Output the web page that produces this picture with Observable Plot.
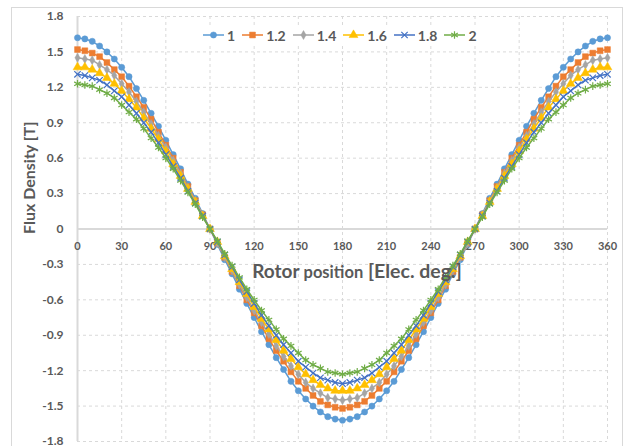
<!DOCTYPE html>
<html><head><meta charset="utf-8">
<script src="https://cdn.jsdelivr.net/npm/d3@7"></script>
<script src="https://cdn.jsdelivr.net/npm/@observablehq/plot@0.6"></script>
<style>
html,body{margin:0;padding:0;background:#fff;}
#wrap{position:relative;width:625px;height:446px;overflow:hidden;background:#fff;}
#frame{position:absolute;left:11px;top:7px;width:612px;height:470px;border:1px solid #D9D9D9;box-sizing:border-box;}
#chart{position:absolute;left:0;top:0;}
#legend{position:absolute;left:202px;top:26px;height:18px;display:flex;align-items:center;background:#fff;font:bold 14px Lato, sans-serif;color:#595959;padding:0 1px;}
#legend .item{display:flex;align-items:center;margin-right:7px;}
#legend .item:last-child{margin-right:0;}
#legend svg{display:block;}
#legend span{margin-left:3px;}
</style>
</head><body>
<div id="wrap"><div id="frame"></div><div id="chart"></div><div id="legend"></div></div>
<script>
const angles = [0,5,10,15,20,25,30,35,40,45,50,55,60,65,70,75,80,85,90,95,100,105,110,115,120,125,130,135,140,145,150,155,160,165,170,175,180,185,190,195,200,205,210,215,220,225,230,235,240,245,250,255,260,265,270,275,280,285,290,295,300,305,310,315,320,325,330,335,340,345,350,355,360];

const seriesNames = ["1","1.2","1.4","1.6","1.8","2"];

const s1 = [1.62,1.61,1.59,1.55,1.50,1.44,1.37,1.29,1.19,1.09,0.98,0.87,0.75,0.63,0.51,0.38,0.26,0.13,0,
-0.13,-0.26,-0.38,-0.51,-0.63,-0.75,-0.87,-0.98,-1.09,-1.19,-1.29,-1.37,-1.44,-1.50,-1.55,-1.59,-1.61,-1.62,
-1.61,-1.59,-1.55,-1.50,-1.44,-1.37,-1.29,-1.19,-1.09,-0.98,-0.87,-0.75,-0.63,-0.51,-0.38,-0.26,-0.13,0,
0.13,0.26,0.38,0.51,0.63,0.75,0.87,0.98,1.09,1.19,1.29,1.37,1.44,1.50,1.55,1.59,1.61,1.62];

const s12 = [1.52,1.51,1.49,1.46,1.41,1.35,1.29,1.21,1.12,1.03,0.93,0.82,0.71,0.60,0.48,0.36,0.24,0.12,0,
-0.12,-0.24,-0.36,-0.48,-0.60,-0.71,-0.82,-0.93,-1.03,-1.12,-1.21,-1.29,-1.35,-1.41,-1.46,-1.49,-1.51,-1.52,
-1.51,-1.49,-1.46,-1.41,-1.35,-1.29,-1.21,-1.12,-1.03,-0.93,-0.82,-0.71,-0.60,-0.48,-0.36,-0.24,-0.12,0,
0.12,0.24,0.36,0.48,0.60,0.71,0.82,0.93,1.03,1.12,1.21,1.29,1.35,1.41,1.46,1.49,1.51,1.52];

const s14 = [1.45,1.44,1.43,1.39,1.35,1.30,1.23,1.16,1.08,0.99,0.89,0.79,0.69,0.58,0.47,0.35,0.24,0.12,0,
-0.12,-0.24,-0.35,-0.47,-0.58,-0.69,-0.79,-0.89,-0.99,-1.08,-1.16,-1.23,-1.30,-1.35,-1.39,-1.43,-1.44,-1.45,
-1.44,-1.43,-1.39,-1.35,-1.30,-1.23,-1.16,-1.08,-0.99,-0.89,-0.79,-0.69,-0.58,-0.47,-0.35,-0.24,-0.12,0,
0.12,0.24,0.35,0.47,0.58,0.69,0.79,0.89,0.99,1.08,1.16,1.23,1.30,1.35,1.39,1.43,1.44,1.45];

const s16 = [1.37,1.37,1.35,1.32,1.28,1.23,1.17,1.10,1.03,0.94,0.85,0.76,0.66,0.55,0.45,0.34,0.23,0.11,0,
-0.11,-0.23,-0.34,-0.45,-0.55,-0.66,-0.76,-0.85,-0.94,-1.03,-1.10,-1.17,-1.23,-1.28,-1.32,-1.35,-1.37,-1.37,
-1.37,-1.35,-1.32,-1.28,-1.23,-1.17,-1.10,-1.03,-0.94,-0.85,-0.76,-0.66,-0.55,-0.45,-0.34,-0.23,-0.11,0,
0.11,0.23,0.34,0.45,0.55,0.66,0.76,0.85,0.94,1.03,1.10,1.17,1.23,1.28,1.32,1.35,1.37,1.37];

const s18 = [1.31,1.30,1.28,1.26,1.22,1.17,1.12,1.05,0.98,0.90,0.82,0.73,0.63,0.53,0.43,0.32,0.22,0.11,0,
-0.11,-0.22,-0.32,-0.43,-0.53,-0.63,-0.73,-0.82,-0.90,-0.98,-1.05,-1.12,-1.17,-1.22,-1.26,-1.28,-1.30,-1.31,
-1.30,-1.28,-1.26,-1.22,-1.17,-1.12,-1.05,-0.98,-0.90,-0.82,-0.73,-0.63,-0.53,-0.43,-0.32,-0.22,-0.11,0,
0.11,0.22,0.32,0.43,0.53,0.63,0.73,0.82,0.90,0.98,1.05,1.12,1.17,1.22,1.26,1.28,1.30,1.31];

const s2 = [1.23,1.22,1.21,1.18,1.15,1.11,1.05,0.99,0.93,0.85,0.77,0.69,0.60,0.51,0.41,0.31,0.21,0.10,0,
-0.10,-0.21,-0.31,-0.41,-0.51,-0.60,-0.69,-0.77,-0.85,-0.93,-0.99,-1.05,-1.11,-1.15,-1.18,-1.21,-1.22,-1.23,
-1.22,-1.21,-1.18,-1.15,-1.11,-1.05,-0.99,-0.93,-0.85,-0.77,-0.69,-0.60,-0.51,-0.41,-0.31,-0.21,-0.10,0,
0.10,0.21,0.31,0.41,0.51,0.60,0.69,0.77,0.85,0.93,0.99,1.05,1.11,1.15,1.18,1.21,1.22,1.23];

const xTicks = [0,30,60,90,120,150,180,210,240,270,300,330,360];
const yTicks = [-1.8,-1.5,-1.2,-0.9,-0.6,-0.3,0,0.3,0.6,0.9,1.2,1.5,1.8];
const xTitleParts = ["Rotor", "position", "[Elec. deg.]"];
const yTitle = "Flux Density [T]";

const values = [s1, s12, s14, s16, s18, s2];
const colors = ["#5B9BD5","#ED7D31","#A5A5A5","#FFC000","#4472C4","#70AD47"];
const symbols = ["circle","square","diamond","triangle","times","asterisk"];
const radii = [3.1, 3.3, 2.7, 3.3, 3.0, 3.6];
const filled = [true,true,true,true,false,false];

const series = seriesNames.map((name, i) => ({
  name, color: colors[i], symbol: symbols[i], r: radii[i], filled: filled[i],
  data: angles.map((a, j) => ({angle: a, value: values[i][j]}))
}));

const textColor = "#595959";
const gridColor = "#D9D9D9";

const marks = [
  Plot.gridX(xTicks, {stroke: gridColor, strokeOpacity: 1, strokeDasharray: "3,3", strokeWidth: 1}),
  Plot.gridY(yTicks, {stroke: gridColor, strokeOpacity: 1, strokeDasharray: "3,3", strokeWidth: 1}),
  Plot.ruleX([0], {stroke: gridColor, strokeWidth: 2}),
  Plot.ruleY([0], {stroke: gridColor, strokeWidth: 2}),
  Plot.axisY(yTicks, {tickSize: 0, tickPadding: 14, label: null, fontSize: 12, fontWeight: "bold", fill: textColor,
    tickFormat: d => String(Math.round(d * 10) / 10)}),
  Plot.text(xTicks, {x: d => d, y: 0, dy: 17, text: d => String(d), fontSize: 11, fontWeight: "bold", fill: textColor}),
  Plot.text([yTitle], {frameAnchor: "left", dx: -48, dy: 5, rotate: -90, text: d => d, fontSize: 16, fontWeight: "bold", fill: textColor})
];

for (const s of series) {
  marks.push(Plot.line(s.data, {x: "angle", y: "value", stroke: s.color, strokeWidth: 1.5}));
  marks.push(Plot.dot(s.data, {x: "angle", y: "value", symbol: s.symbol, r: s.r,
    fill: s.filled ? s.color : "none", stroke: s.color, strokeWidth: s.filled ? 0.5 : 1.2}));
}

const chart = Plot.plot({
  width: 625, height: 446,
  marginLeft: 77, marginRight: 18, marginTop: 16, marginBottom: 5,
  x: {domain: [0, 360], axis: null},
  y: {domain: [-1.8, 1.8], axis: null},
  style: {fontFamily: "Lato, sans-serif", background: "transparent", color: textColor},
  marks
});
document.getElementById("chart").appendChild(chart);

// x axis title with mixed sizes, drawn over the plot
const xt = d3.select(chart).append("text")
  .attr("x", 357).attr("y", 277.5).attr("text-anchor", "middle")
  .attr("fill", textColor).attr("font-weight", "bold").attr("font-family", "Lato, sans-serif");
const partSizes = [19, 16.5, 19.5];
xTitleParts.forEach((p, i) => {
  xt.append("tspan").attr("font-size", partSizes[i]).text((i ? " " : "") + p);
});

// legend
const symMap = {circle: d3.symbolCircle, square: d3.symbolSquare, diamond: d3.symbolDiamond,
  triangle: d3.symbolTriangle, times: d3.symbolTimes, asterisk: d3.symbolAsterisk};
const legend = d3.select("#legend");
for (const s of series) {
  const item = legend.append("div").attr("class", "item");
  const svg = item.append("svg").attr("width", 21).attr("height", 14);
  svg.append("line").attr("x1", 0).attr("x2", 21).attr("y1", 7).attr("y2", 7)
    .attr("stroke", s.color).attr("stroke-width", 1.5);
  svg.append("path").attr("transform", "translate(10.5,7)")
    .attr("d", d3.symbol(symMap[s.symbol], Math.PI * s.r * s.r)())
    .attr("fill", s.filled ? s.color : "none").attr("stroke", s.color)
    .attr("stroke-width", s.filled ? 0.5 : 1.2);
  item.append("span").text(s.name);
}
</script>
</body></html>
